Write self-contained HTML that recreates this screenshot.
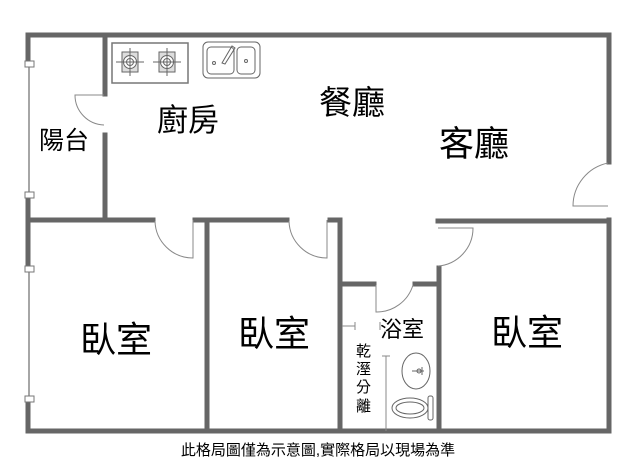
<!DOCTYPE html>
<html><head><meta charset="utf-8"><style>
html,body{margin:0;padding:0;background:#fff;}
svg{display:block;}
text{font-family:"Liberation Sans","Noto Sans CJK TC",sans-serif;fill:#000;}
</style></head><body>
<svg width="638" height="460" viewBox="0 0 638 460" xmlns="http://www.w3.org/2000/svg">
<g stroke="#666" stroke-width="5" fill="none" stroke-linecap="square">
 <line x1="28" y1="35" x2="609" y2="35"/>
 <line x1="28" y1="35" x2="28" y2="62"/>
 <line x1="28" y1="197" x2="28" y2="266"/>
 <line x1="28" y1="401" x2="28" y2="431"/>
 <line x1="28" y1="431" x2="609" y2="431"/>
 <line x1="609" y1="35" x2="609" y2="162"/>
 <line x1="609" y1="220" x2="609" y2="431"/>
 <line x1="105" y1="35" x2="105" y2="94"/>
 <line x1="105" y1="135" x2="105" y2="220"/>
 <line x1="28" y1="220" x2="153" y2="220"/>
 <line x1="195" y1="220" x2="287" y2="220"/>
 <line x1="330" y1="220" x2="340" y2="220"/>
 <line x1="438" y1="221" x2="609" y2="221"/>
 <line x1="207" y1="220" x2="207" y2="431"/>
 <line x1="340" y1="220" x2="340" y2="431"/>
 <line x1="439" y1="268" x2="439" y2="431"/>
 <line x1="340" y1="284" x2="374" y2="284"/>
 <line x1="415" y1="284" x2="439" y2="284"/>
</g>
<g stroke="#777" stroke-width="1.3" fill="none">
 <line x1="29" y1="62" x2="29" y2="197"/>
 <line x1="29" y1="266" x2="29" y2="401"/>
</g>
<g fill="#fff" stroke="#777" stroke-width="1">
 <rect x="25" y="61" width="9" height="6"/><rect x="25" y="192" width="9" height="6"/>
 <rect x="25" y="266" width="9" height="6"/><rect x="25" y="396" width="9" height="6"/>
</g>
<g stroke="#888" stroke-width="1" fill="none">
 <path d="M104 95 L75 95 A30 30 0 0 0 104 125"/>
 <path d="M155 221 A38 38 0 0 0 193 258 L193 220"/>
 <path d="M289 221 A38 38 0 0 0 327 258 L327 220"/>
 <path d="M608 163 A44 44 0 0 0 573 206 L608 206"/>
 <path d="M438 228 L473 228 A38 38 0 0 1 438 266"/>
 <path d="M376 285 L376 312 A38 38 0 0 0 413 285"/>
 <line x1="386" y1="356" x2="386" y2="431"/>
 <line x1="382" y1="356" x2="390" y2="356"/>
 <line x1="342" y1="326" x2="355" y2="326"/><line x1="355" y1="322" x2="355" y2="330"/>
 <line x1="380" y1="322" x2="380" y2="330"/>
</g>
<g stroke="#666" fill="none" stroke-width="1">
 <rect x="112" y="43" width="76" height="40" fill="#fff" stroke="#777" stroke-width="1.5"/>
 <rect x="122" y="52" width="16" height="20" fill="#ddd"/>
 <rect x="159" y="52" width="16" height="20" fill="#ddd"/>
 <circle cx="130" cy="62" r="6.5" fill="#fff"/><circle cx="130" cy="62" r="3.5"/>
 <circle cx="167" cy="62" r="6.5" fill="#fff"/><circle cx="167" cy="62" r="3.5"/>
 <path d="M116 62H144M130 48V76M153 62H181M167 48V76"/>
 <rect x="203" y="42" width="57" height="36" rx="5"/>
 <rect x="207" y="47" width="27" height="27" rx="4"/>
 <rect x="237" y="47" width="18" height="27" rx="4"/>
 <circle cx="214" cy="63" r="1.5"/><circle cx="246" cy="61" r="1.5"/>
 <path d="M222 63 L232 46 L235 48 L225 64Z"/>
 <ellipse cx="416" cy="371" rx="14" ry="18"/>
 <circle cx="419" cy="371" r="2"/><path d="M412 371H424M422 367V375"/>
 <ellipse cx="410" cy="408" rx="18" ry="10"/>
 <ellipse cx="410" cy="408" rx="14" ry="6"/>
 <rect x="428" y="396" width="5" height="24" rx="2"/>
</g>
<text x="39" y="149" font-size="25">陽台</text>
<text x="157" y="131" font-size="31">廚房</text>
<text x="319" y="114" font-size="33">餐廳</text>
<text x="439" y="156" font-size="35">客廳</text>
<text x="80" y="352" font-size="36">臥室</text>
<text x="238" y="346" font-size="36">臥室</text>
<text x="491" y="345" font-size="36">臥室</text>
<text x="380" y="337" font-size="22">浴室</text>
<g font-size="15" fill="#333">
 <text x="356" y="356">乾</text><text x="356" y="374">溼</text>
 <text x="356" y="392">分</text><text x="356" y="411">離</text>
</g>
<text x="318" y="455" font-size="15" text-anchor="middle">此格局圖僅為示意圖,實際格局以現場為準</text>
</svg>
</body></html>
